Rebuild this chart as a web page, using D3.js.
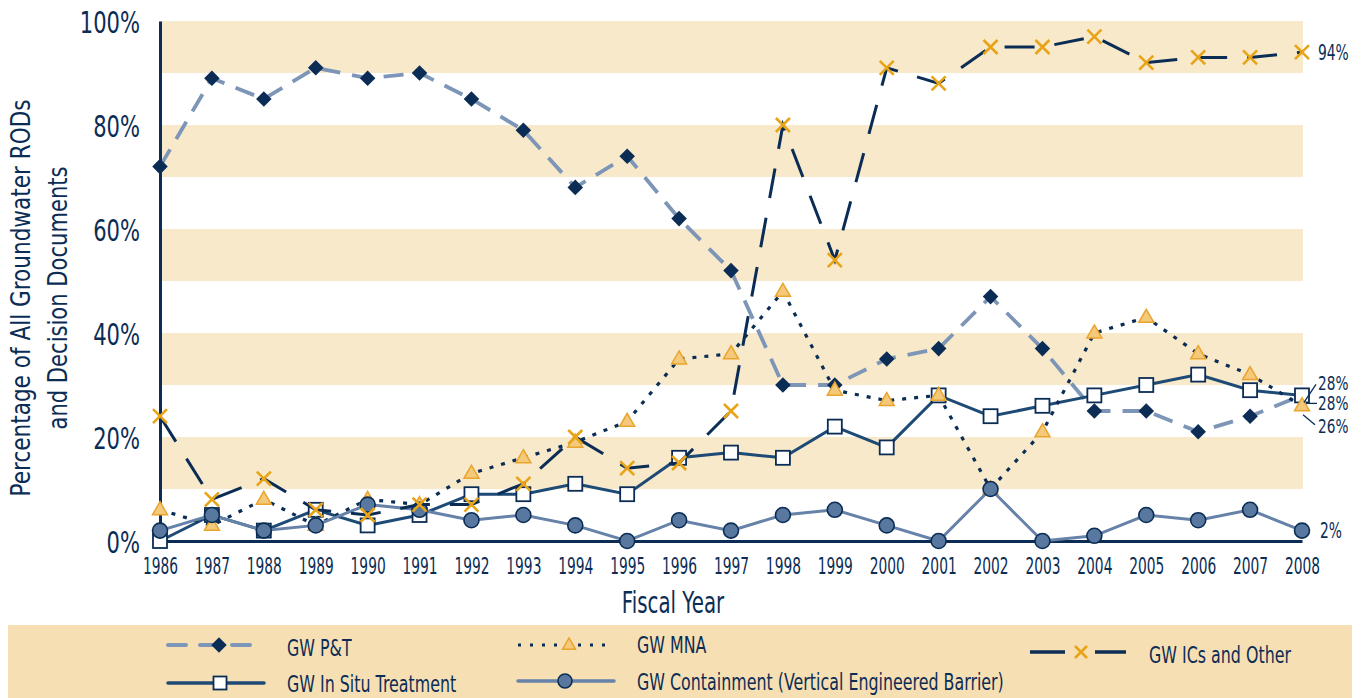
<!DOCTYPE html>
<html>
<head>
<meta charset="utf-8">
<script src="https://cdn.jsdelivr.net/npm/d3@7"></script>
<style>
  html, body { margin: 0; padding: 0; background: #ffffff; }
  svg { display: block; }
  text { font-family: "DejaVu Sans", sans-serif; fill: #0B2D55; }
</style>
</head>
<body>
<svg id="chart" width="1364" height="698"></svg>
<script>
// ---------------- DATA ----------------
const years = [1986,1987,1988,1989,1990,1991,1992,1993,1994,1995,1996,1997,1998,1999,2000,2001,2002,2003,2004,2005,2006,2007,2008];
const gwPT       = [72,89,85,91,89,90,85,79,68,74,62,52,30,30,35,37,47,37,25,25,21,24,28];
const gwMNA      = [6,3,8,3,8,7,13,16,19,23,35,36,48,29,27,28,10,21,40,43,36,32,26];
const gwICs      = [24,8,12,6,5,7,7,11,20,14,15,25,80,54,91,88,95,95,97,92,93,93,94];
const gwInSitu   = [0,5,2,6,3,5,9,9,11,9,16,17,16,22,18,28,24,26,28,30,32,29,28];
const gwContain  = [2,5,2,3,7,6,4,5,3,0,4,2,5,6,3,0,10,0,1,5,4,6,2];
const yTicks     = [0,20,40,60,80,100];
const bandRanges = [[10,20],[30,40],[50,60],[70,80],[90,100]];
const seriesNames = ["GW P&T","GW MNA","GW ICs and Other","GW In Situ Treatment","GW Containment (Vertical Engineered Barrier)"];

// ---------------- SETUP ----------------
const svg = d3.select("#chart");
const navy = "#0B2D55";
const orange = "#E8A317";
const x = d3.scaleLinear().domain([1986, 2008]).range([160, 1302]);
const y = d3.scaleLinear().domain([0, 100]).range([541, 21]);
const plotRight = 1303;

// horizontally condense text around its anchor x (the reference uses a condensed face)
function condense(sel, f) {
  sel.each(function () {
    const ax = +(this.getAttribute("x") || 0);
    d3.select(this).attr("transform", `translate(${ax * (1 - f)},0) scale(${f},1)`);
  });
  return sel;
}

// bands
svg.append("g").selectAll("rect").data(bandRanges).join("rect")
  .attr("x", x(1986)).attr("width", plotRight - x(1986))
  .attr("y", d => y(d[1])).attr("height", d => y(d[0]) - y(d[1]))
  .attr("fill", "#F8E9CB");

// axes
const yAxis = svg.append("g").attr("transform", `translate(${x(1986)},0)`)
  .call(d3.axisLeft(y).tickValues(yTicks).tickSize(0).tickSizeOuter(0).tickPadding(20).tickFormat(d => d + "%"));
yAxis.select(".domain").attr("stroke", navy).attr("stroke-width", 3);
yAxis.selectAll("text").attr("font-size", 31).attr("fill", navy).attr("dy", "0.36em")
  .style("font-family", '"DejaVu Sans", sans-serif');
condense(yAxis.selectAll("text"), 0.68);

const xAxis = svg.append("g").attr("transform", `translate(0,${y(0)})`)
  .call(d3.axisBottom(x).tickValues(years).tickSize(0).tickSizeOuter(0).tickPadding(17).tickFormat(d3.format("d")));
xAxis.select(".domain").attr("stroke", navy).attr("stroke-width", 3);
xAxis.selectAll("text").attr("font-size", 23).attr("fill", navy)
  .style("font-family", '"DejaVu Sans", sans-serif');
condense(xAxis.selectAll("text"), 0.6);

// axis titles
const xt = svg.append("text").attr("x", 673).attr("y", 613).attr("text-anchor", "middle")
  .attr("font-size", 30).text("Fiscal Year");
condense(xt, 0.66);
const yt = svg.append("g").attr("transform", "translate(0,298) rotate(-90)").attr("font-size", 26);
const yt1 = yt.append("text").attr("x", 0).attr("y", 30).attr("text-anchor", "middle").text("Percentage of All Groundwater RODs");
const yt2 = yt.append("text").attr("x", 0).attr("y", 67).attr("text-anchor", "middle").text("and Decision Documents");
yt1.attr("textLength", 397).attr("lengthAdjust", "spacingAndGlyphs");
yt2.attr("textLength", 263).attr("lengthAdjust", "spacingAndGlyphs");

// ---------------- SERIES ----------------
const line = d3.line().x((d, i) => x(years[i])).y(d => y(d));

function drawDiamond(g, px, py) {
  g.append("rect").attr("x", px - 5.5).attr("y", py - 5.5).attr("width", 11).attr("height", 11)
    .attr("transform", `rotate(45,${px},${py})`).attr("fill", navy);
}
function drawSquare(g, px, py, s = 14) {
  g.append("rect").attr("x", px - s/2).attr("y", py - s/2).attr("width", s).attr("height", s)
    .attr("fill", "#ffffff").attr("stroke", navy).attr("stroke-width", 1.8);
}
function drawTriangle(g, px, py, s = 15) {
  const h = s * 0.87;
  g.append("path").attr("d", `M${px},${py - h*0.62} L${px + s/2},${py + h*0.38} L${px - s/2},${py + h*0.38} Z`)
    .attr("fill", "#F5C97C").attr("stroke", "#E9A52C").attr("stroke-width", 1.5);
}
function drawCircle(g, px, py, r = 7.5) {
  g.append("circle").attr("cx", px).attr("cy", py).attr("r", r)
    .attr("fill", "#58789F").attr("stroke", navy).attr("stroke-width", 1.6);
}
function drawX(g, px, py, s = 7) {
  g.append("path").attr("d", `M${px - s},${py - s} L${px + s},${py + s} M${px - s},${py + s} L${px + s},${py - s}`)
    .attr("stroke", orange).attr("stroke-width", 2.6).attr("fill", "none");
}

// P&T
const gPT = svg.append("g");
gPT.append("path").datum(gwPT).attr("d", line).attr("fill", "none")
  .attr("stroke", "#7D95B6").attr("stroke-width", 3.8).attr("stroke-dasharray", "20,12");
gwPT.forEach((v, i) => drawDiamond(gPT, x(years[i]), y(v)));

// In Situ
const gIS = svg.append("g");
gIS.append("path").datum(gwInSitu).attr("d", line).attr("fill", "none")
  .attr("stroke", "#1E4A76").attr("stroke-width", 3);
gwInSitu.forEach((v, i) => drawSquare(gIS, x(years[i]), y(v)));

// MNA
const gMNA = svg.append("g");
gMNA.append("path").datum(gwMNA).attr("d", line).attr("fill", "none")
  .attr("stroke", navy).attr("stroke-width", 3.2).attr("stroke-dasharray", "4,8");
gwMNA.forEach((v, i) => drawTriangle(gMNA, x(years[i]), y(v)));

// Containment
const gC = svg.append("g");
gC.append("path").datum(gwContain).attr("d", line).attr("fill", "none")
  .attr("stroke", "#6682A9").attr("stroke-width", 3);
gwContain.forEach((v, i) => drawCircle(gC, x(years[i]), y(v)));

// ICs
const gIC = svg.append("g");
gIC.append("path").datum(gwICs).attr("d", line).attr("fill", "none")
  .attr("stroke", navy).attr("stroke-width", 3).attr("stroke-dasharray", "30,20");
gwICs.forEach((v, i) => drawX(gIC, x(years[i]), y(v)));

// ---------------- END LABELS ----------------
const last = years.length - 1;
const xe = x(years[last]);
const endLab = svg.append("g");
const endTexts = [
  {v: gwICs[last], dx: 16, dy: 0, fs: 21},
  {v: gwContain[last], dx: 18, dy: 0, fs: 21},
  {v: gwInSitu[last], dx: 16, dy: -12, fs: 19},
  {v: gwPT[last], dx: 16, dy: 8, fs: 19},
  {v: gwMNA[last], dx: 16, dy: 20, fs: 19}
];
endLab.selectAll("text").data(endTexts).join("text")
  .attr("font-size", d => d.fs)
  .attr("x", d => xe + d.dx).attr("y", d => y(d.v) + d.dy).attr("dy", "0.36em").text(d => d.v + "%");
endLab.selectAll("text").each(function (d) { condense(d3.select(this), d.fs === 21 ? 0.66 : 0.72); });
const lead = svg.append("g").attr("stroke", navy).attr("stroke-width", 1.3);
lead.append("line").attr("x1", xe + 2).attr("y1", y(gwInSitu[last]) + 7).attr("x2", xe + 14).attr("y2", y(gwInSitu[last]) - 11);
lead.append("line").attr("x1", xe + 4).attr("y1", y(gwPT[last]) + 8).attr("x2", xe + 15).attr("y2", y(gwPT[last]) + 8);
lead.append("line").attr("x1", xe + 1).attr("y1", y(gwMNA[last]) + 9).attr("x2", xe + 13).attr("y2", y(gwMNA[last]) + 19);

// ---------------- LEGEND ----------------
svg.append("rect").attr("x", 8).attr("y", 625).attr("width", 1344).attr("height", 73).attr("fill", "#F7DFB4");
const lg = svg.append("g");
const legendItems = [
  {name: seriesNames[0], x1: 168, x2: 250, mx: 219, y: 645, ty: 656, tx: 287},
  {name: seriesNames[3], x1: 168, x2: 264, mx: 220, y: 683, ty: 692, tx: 287},
  {name: seriesNames[1], x1: 518, x2: 614, mx: 569, y: 645, ty: 653, tx: 637},
  {name: seriesNames[4], x1: 518, x2: 614, mx: 565, y: 681, ty: 690, tx: 637},
  {name: seriesNames[2], x1: 1030, x2: 1126, mx: 1081, y: 652, ty: 663, tx: 1149}
];
legendItems.forEach(it => {
  const t = lg.append("text").attr("x", it.tx).attr("y", it.ty).attr("font-size", 23).text(it.name);
  condense(t, 0.69);
});
// P&T
let it = legendItems[0];
lg.append("line").attr("x1", it.x1).attr("x2", it.x2).attr("y1", it.y).attr("y2", it.y)
  .attr("stroke", "#7D95B6").attr("stroke-width", 4).attr("stroke-dasharray", "18,14").attr("stroke-linecap", "round");
drawDiamond(lg, it.mx, it.y);
// In situ
it = legendItems[1];
lg.append("line").attr("x1", it.x1).attr("x2", it.x2).attr("y1", it.y).attr("y2", it.y)
  .attr("stroke", "#1E4A76").attr("stroke-width", 3.5).attr("stroke-linecap", "round");
drawSquare(lg, it.mx, it.y, 13);
// MNA
it = legendItems[2];
lg.append("line").attr("x1", it.x1).attr("x2", it.x2).attr("y1", it.y).attr("y2", it.y)
  .attr("stroke", navy).attr("stroke-width", 3).attr("stroke-dasharray", "3,9");
drawTriangle(lg, it.mx, it.y, 13);
// Containment
it = legendItems[3];
lg.append("line").attr("x1", it.x1).attr("x2", it.x2).attr("y1", it.y).attr("y2", it.y)
  .attr("stroke", "#6682A9").attr("stroke-width", 3.5).attr("stroke-linecap", "round");
drawCircle(lg, it.mx, it.y, 7);
// ICs
it = legendItems[4];
lg.append("line").attr("x1", it.x1).attr("x2", it.mx - 16).attr("y1", it.y).attr("y2", it.y)
  .attr("stroke", navy).attr("stroke-width", 3.5);
lg.append("line").attr("x1", it.mx + 14).attr("x2", it.x2).attr("y1", it.y).attr("y2", it.y)
  .attr("stroke", navy).attr("stroke-width", 3.5);
drawX(lg, it.mx, it.y, 6);
</script>
</body>
</html>
